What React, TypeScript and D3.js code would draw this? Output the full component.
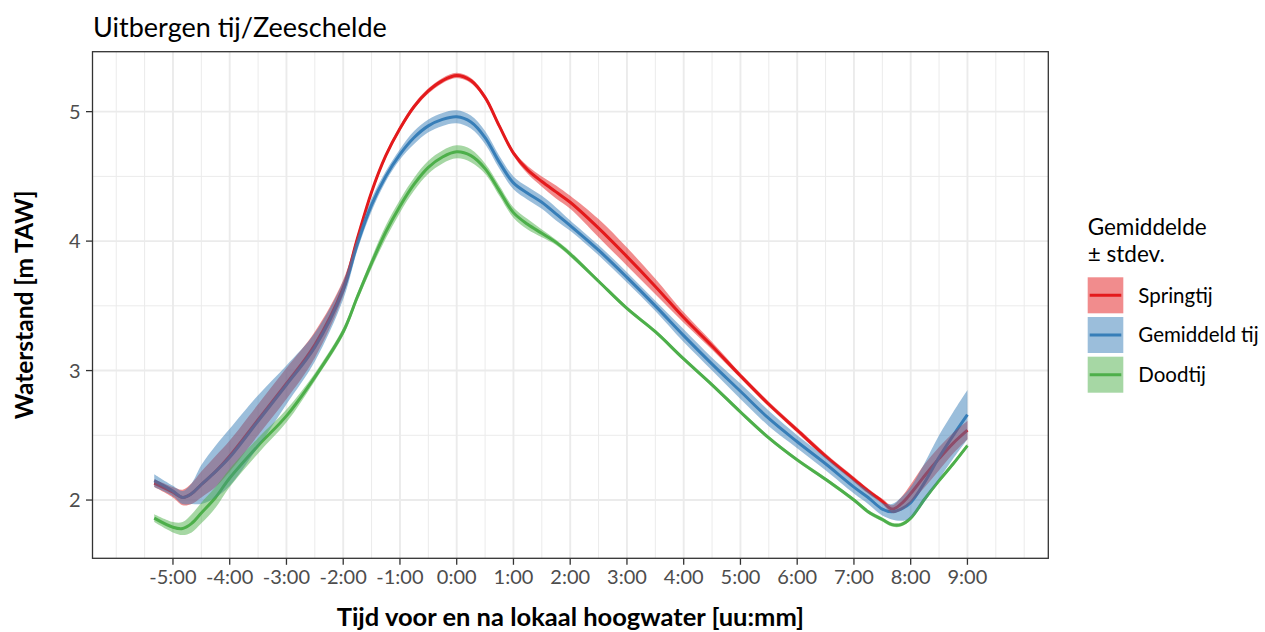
import React from 'react';
import * as d3 from 'd3';

const hours = [-5.33, -5.0, -4.83, -4.67, -4.5, -4.25, -4.0, -3.5, -3.0, -2.5, -2.0, -1.75, -1.5, -1.25, -1.0, -0.75, -0.5, -0.25, 0, 0.25, 0.5, 0.75, 1.0, 1.25, 1.5, 1.75, 2.0, 2.5, 3.0, 3.5, 4.0, 4.5, 5.0, 5.5, 6.0, 6.5, 7.0, 7.25, 7.5, 7.67, 7.83, 8.0, 8.25, 8.5, 8.75, 9.0];

const springtij = [2.13, 2.06, 2.02, 2.05, 2.12, 2.22, 2.34, 2.62, 2.90, 3.20, 3.64, 4.02, 4.38, 4.66, 4.87, 5.04, 5.16, 5.24, 5.28, 5.24, 5.11, 4.89, 4.68, 4.55, 4.46, 4.38, 4.30, 4.10, 3.88, 3.65, 3.41, 3.19, 2.96, 2.74, 2.54, 2.34, 2.16, 2.07, 1.99, 1.93, 1.97, 2.05, 2.19, 2.32, 2.44, 2.54];
const springtijSd = [0.03, 0.04, 0.06, 0.08, 0.10, 0.12, 0.12, 0.12, 0.12, 0.10, 0.06, 0.03, 0.02, 0.02, 0.02, 0.02, 0.02, 0.02, 0.02, 0.02, 0.02, 0.02, 0.02, 0.03, 0.04, 0.05, 0.05, 0.07, 0.07, 0.06, 0.04, 0.03, 0.02, 0.02, 0.02, 0.02, 0.02, 0.02, 0.02, 0.03, 0.05, 0.07, 0.09, 0.09, 0.08, 0.07];

const gemiddeld = [2.15, 2.07, 2.02, 2.05, 2.12, 2.22, 2.33, 2.61, 2.89, 3.18, 3.62, 3.98, 4.28, 4.50, 4.67, 4.80, 4.89, 4.94, 4.96, 4.92, 4.80, 4.61, 4.45, 4.37, 4.30, 4.21, 4.12, 3.93, 3.72, 3.50, 3.27, 3.05, 2.84, 2.63, 2.45, 2.28, 2.10, 2.02, 1.93, 1.91, 1.93, 1.98, 2.14, 2.33, 2.50, 2.66];
const gemiddeldSd = [0.05, 0.04, 0.05, 0.08, 0.15, 0.20, 0.22, 0.20, 0.15, 0.11, 0.07, 0.05, 0.05, 0.04, 0.04, 0.05, 0.05, 0.05, 0.05, 0.05, 0.05, 0.05, 0.05, 0.05, 0.05, 0.05, 0.04, 0.04, 0.04, 0.04, 0.05, 0.05, 0.06, 0.06, 0.05, 0.05, 0.05, 0.05, 0.05, 0.06, 0.09, 0.12, 0.15, 0.17, 0.18, 0.19];

const doodtij = [1.86, 1.79, 1.78, 1.82, 1.90, 2.02, 2.17, 2.42, 2.65, 2.95, 3.30, 3.57, 3.83, 4.07, 4.27, 4.44, 4.57, 4.65, 4.69, 4.66, 4.56, 4.39, 4.22, 4.13, 4.06, 3.99, 3.90, 3.69, 3.48, 3.30, 3.09, 2.89, 2.68, 2.48, 2.31, 2.16, 2.00, 1.91, 1.85, 1.81, 1.81, 1.86, 2.01, 2.15, 2.28, 2.42];
const doodtijSd = [0.03, 0.04, 0.05, 0.07, 0.08, 0.08, 0.07, 0.06, 0.05, 0.03, 0.03, 0.03, 0.04, 0.05, 0.05, 0.05, 0.05, 0.05, 0.05, 0.05, 0.04, 0.04, 0.04, 0.04, 0.03, 0.02, 0.02, 0.015, 0.015, 0.015, 0.015, 0.015, 0.015, 0.015, 0.015, 0.015, 0.015, 0.015, 0.015, 0.015, 0.015, 0.015, 0.015, 0.015, 0.015, 0.015];

const seriesNames = ['Springtij', 'Gemiddeld tij', 'Doodtij'];
const seriesColors = ['#E41A1C', '#377EB8', '#4DAF4A'];
const seriesMeans = [springtij, gemiddeld, doodtij];
const seriesSds = [springtijSd, gemiddeldSd, doodtijSd];

const xTickHours = [-5, -4, -3, -2, -1, 0, 1, 2, 3, 4, 5, 6, 7, 8, 9];
const xTickLabels = ['-5:00', '-4:00', '-3:00', '-2:00', '-1:00', '0:00', '1:00', '2:00', '3:00', '4:00', '5:00', '6:00', '7:00', '8:00', '9:00'];
const xMinorHours = [-6, -5.5, -4.5, -3.5, -2.5, -1.5, -0.5, 0.5, 1.5, 2.5, 3.5, 4.5, 5.5, 6.5, 7.5, 8.5, 9.5, 10];
const yTicks = [2, 3, 4, 5];
const yMinor = [2.5, 3.5, 4.5];

const title = 'Uitbergen tij/Zeeschelde';
const xTitle = 'Tijd voor en na lokaal hoogwater [uu:mm]';
const yTitle = 'Waterstand [m TAW]';
const legendTitle1 = 'Gemiddelde';
const legendTitle2 = '± stdev.';

const W = 1265, H = 632;
const PL = 92.5, PR = 1048.3, PT = 51.7, PB = 558.3;
const FONT = 'Lato, "Open Sans", sans-serif';

export default function App() {
  const x = d3.scaleLinear().domain([-6.418, 10.425]).range([PL, PR]);
  const y = d3.scaleLinear().domain([1.55, 5.463]).range([PB, PT]);

  const idx = hours.map((_, i) => i);
  const curve = d3.curveCatmullRom.alpha(0.5);
  const lineGen = (vals: number[]) =>
    d3.line<number>().x(i => x(hours[i])).y(i => y(vals[i])).curve(curve)(idx) || '';
  const areaGen = (vals: number[], sd: number[]) =>
    d3.area<number>().x(i => x(hours[i])).y0(i => y(vals[i] - sd[i])).y1(i => y(vals[i] + sd[i])).curve(curve)(idx) || '';

  const grid = '#EBEBEB';
  const axisCol = '#333333';
  const tickText = '#4D4D4D';

  const legX = 1087.7, legY0 = 277.3, keyW = 35.6, keyH = 36, keyGap = 3.7;

  return (
    <svg width={W} height={H} style={{ position: 'absolute', left: 0, top: 0, background: '#fff' }} fontFamily={FONT}>
      <rect x={0} y={0} width={W} height={H} fill="#fff" />
      {xMinorHours.map(h => (
        <line key={'xm' + h} x1={x(h)} x2={x(h)} y1={PT} y2={PB} stroke={grid} strokeWidth={1} />
      ))}
      {yMinor.map(v => (
        <line key={'ym' + v} x1={PL} x2={PR} y1={y(v)} y2={y(v)} stroke={grid} strokeWidth={1} />
      ))}
      {xTickHours.map(h => (
        <line key={'xg' + h} x1={x(h)} x2={x(h)} y1={PT} y2={PB} stroke={grid} strokeWidth={1.9} />
      ))}
      {yTicks.map(v => (
        <line key={'yg' + v} x1={PL} x2={PR} y1={y(v)} y2={y(v)} stroke={grid} strokeWidth={1.9} />
      ))}
      <clipPath id="panel"><rect x={PL} y={PT} width={PR - PL} height={PB - PT} /></clipPath>
      <g clipPath="url(#panel)">
        {seriesMeans.map((m, k) => (
          <path key={'l' + k} d={lineGen(m)} fill="none" stroke={seriesColors[k]} strokeWidth={3} strokeLinejoin="round" />
        ))}
        {seriesMeans.map((m, k) => (
          <path key={'r' + k} d={areaGen(m, seriesSds[k])} fill={seriesColors[k]} fillOpacity={0.5} stroke="none" />
        ))}
      </g>
      <rect x={PL} y={PT} width={PR - PL} height={PB - PT} fill="none" stroke={axisCol} strokeWidth={1.3} />
      {xTickHours.map((h, i) => (
        <g key={'xt' + h}>
          <line x1={x(h)} x2={x(h)} y1={PB} y2={PB + 6.5} stroke={axisCol} strokeWidth={1.3} />
          <text x={x(h)} y={584} textAnchor="middle" fontSize={20} fill={tickText}>{xTickLabels[i]}</text>
        </g>
      ))}
      {yTicks.map(v => (
        <g key={'yt' + v}>
          <line x1={PL - 6.5} x2={PL} y1={y(v)} y2={y(v)} stroke={axisCol} strokeWidth={1.3} />
          <text x={80.5} y={y(v)} dy="0.36em" textAnchor="end" fontSize={20} fill={tickText}>{v}</text>
        </g>
      ))}
      <text x={93} y={36.5} fontSize={27} fill="#000">{title}</text>
      <text x={(PL + PR) / 2} y={626} textAnchor="middle" fontSize={25.5} fontWeight="bold" fill="#000">{xTitle}</text>
      <text transform={`translate(33,${(PT + PB) / 2}) rotate(-90)`} textAnchor="middle" fontSize={24.5} fontWeight="bold" fill="#000">{yTitle}</text>
      <text x={legX} y={235} fontSize={22.5} fill="#000">{legendTitle1}</text>
      <text x={legX} y={262} fontSize={22.5} fill="#000">{legendTitle2}</text>
      {seriesNames.map((n, k) => {
        const ky = legY0 + k * (keyH + keyGap);
        return (
          <g key={'lg' + k}>
            <rect x={legX} y={ky} width={keyW} height={keyH} fill={seriesColors[k]} fillOpacity={0.5} />
            <line x1={legX + 2} x2={legX + keyW - 2} y1={ky + keyH / 2} y2={ky + keyH / 2} stroke={seriesColors[k]} strokeWidth={3} />
            <text x={1138.3} y={ky + keyH / 2} dy="0.36em" fontSize={20.5} fill="#000">{n}</text>
          </g>
        );
      })}
    </svg>
  );
}
